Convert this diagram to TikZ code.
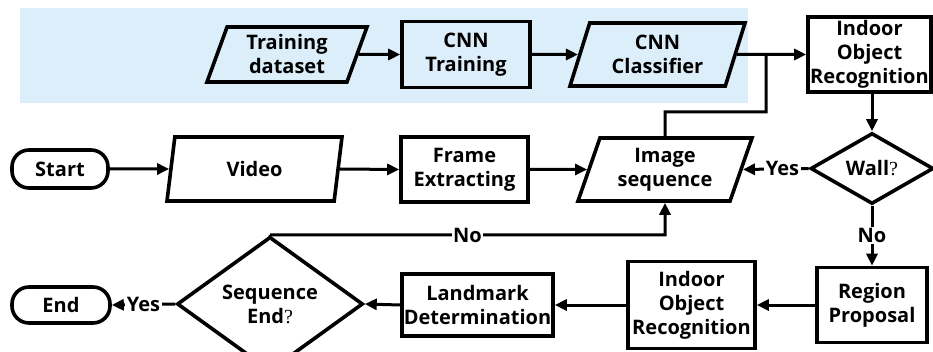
\documentclass[tikz,border=0pt]{standalone}
\usepackage{fontspec}
\setmainfont{Open Sans}
\newfontfamily\qfont{Liberation Serif}
\usetikzlibrary{shapes.geometric,arrows.meta}
\definecolor{bgblue}{RGB}{220,238,250}
\tikzset{
  base/.style={draw, line width=3.6pt, align=center, inner sep=0pt,
    font=\fontsize{20}{24}\selectfont\bfseries},
  proc/.style={base, rectangle},
  para/.style={base, trapezium, trapezium left angle=63, trapezium right angle=117,
    trapezium stretches body},
  term/.style={base, rectangle, rounded corners=17pt},
  dec/.style={base, diamond},
  conn/.style={line width=3pt},
  arr/.style={conn, -{Triangle[length=12pt,width=11pt]}},
  lbl/.style={fill=white, inner sep=1.5pt, font=\fontsize{20}{24}\selectfont\bfseries},
}
\newcommand{\qm}{{\qfont\mdseries ?}}
\begin{document}
\begin{tikzpicture}[x=1pt,y=-1pt]
\useasboundingbox (0,0) rectangle (933,352);
\clip (0,0) rectangle (933,352);
\fill[bgblue] (20,8) rectangle (748,103);
% top row
\node[para, minimum width=160pt, minimum height=55pt] (ds) at (287,54.5) {Training\\dataset};
\node[proc, minimum width=128pt, minimum height=66pt] (tr) at (466,54.5) {CNN\\Training};
\node[para, minimum width=175pt, minimum height=63pt] (cl) at (657.5,54.5) {CNN\\Classifier};
\node[proc, minimum width=123pt, minimum height=75pt] (ior1) at (869.5,54.5) {Indoor\\Object\\Recognition};
% middle row
\node[term, minimum width=96pt, minimum height=38pt] (start) at (60,169) {Start};
\node[para, minimum width=175pt, minimum height=64pt] (video) at (254.5,169) {Video};
\node[proc, minimum width=127pt, minimum height=65pt] (fe) at (464.5,169.5) {Frame\\Extracting};
\node[para, minimum width=174pt, minimum height=63pt] (img) at (665,169.5) {Image\\sequence};
\node[dec, minimum width=123pt, minimum height=71pt] (wall) at (872,168.5) {Wall\qm};
% bottom row
\node[proc, minimum width=110pt, minimum height=75pt] (rp) at (872,305) {Region\\Proposal};
\node[proc, minimum width=127pt, minimum height=87pt] (ior2) at (691.5,305) {Indoor\\Object\\Recognition};
\node[proc, minimum width=151pt, minimum height=62pt] (lm) at (477.5,305) {Landmark\\Determination};
\node[dec, minimum width=186pt, minimum height=96pt] (se) at (270,304) {Sequence\\End\qm};
\node[term, minimum width=98pt, minimum height=36pt] (end) at (61,305) {End};
% connectors
\draw[arr] (ds.east) -- (tr.west);
\draw[arr] (tr.east) -- (cl.west);
\draw[arr] (cl.east) -- (ior1.west);
\coordinate (j) at (766,54.5);
\coordinate (k) at (665,112);
\draw[conn] (j) |- (k) -- (img.north);
\draw[arr] (start.east) -- (video.west);
\draw[arr] (video.east) -- (fe.west);
\draw[arr] (fe.east) -- (img.west);
\draw[arr] (ior1.south -| wall.north) -- (wall.north);
\draw[arr] (wall.west) -- node[lbl, pos=0.4]{Yes} (img.east);
\draw[arr] (wall.south) -- node[lbl]{No} (rp.north);
\draw[arr] (rp.west) -- (ior2.east);
\draw[arr] (ior2.west) -- (lm.east);
\draw[arr] (lm.west) -- (se.east);
\draw[arr] (se.west) -- node[lbl]{Yes} (end.east);
\coordinate (c2) at (665,235);
\draw[arr] (se.north) |- node[lbl, pos=0.75]{No} (c2) -- (img.south);
\end{tikzpicture}
\end{document}
